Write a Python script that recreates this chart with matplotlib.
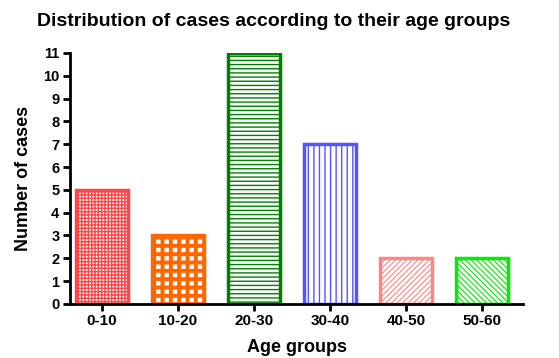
import matplotlib
matplotlib.use("Agg")
import matplotlib.pyplot as plt

categories = ["0-10", "10-20", "20-30", "30-40", "40-50", "50-60"]
cases = [5, 3, 11, 7, 2, 2]
colors = ["#FF4545", "#FF6600", "#008000", "#5555FF", "#FF8585", "#00EE00"]
hatches = ["+++++", "++", "----", "|||", "//////", "\\\\\\\\\\\\"]
hatch_lw = [1.0, 2.8, 1.0, 1.0, 0.8, 0.8]

plt.rcParams['font.family'] = ['Liberation Sans', 'DejaVu Sans']

fig = plt.figure(figsize=(5.59, 3.58), dpi=100)
ax = fig.add_axes([0.125, 0.151, 0.811, 0.701])

x = list(range(len(categories)))
for i in x:
    plt.rcParams['hatch.linewidth'] = hatch_lw[i]
    b = ax.bar(i, cases[i], width=0.68, facecolor="white", edgecolor=colors[i],
               hatch=hatches[i], linewidth=2.5, zorder=2)
    for p in b:
        if hasattr(p, "set_hatch_linewidth"):
            p.set_hatch_linewidth(hatch_lw[i])

ax.set_xlim(-0.42, 5.54)
ax.set_ylim(0, 11)
ax.set_yticks(range(0, 12))
ax.set_xticks(x)
ax.set_xticklabels(categories)
for lab in ax.get_xticklabels():
    lab.set_fontweight("bold")
    lab.set_fontsize(11)
for lab in ax.get_yticklabels():
    lab.set_fontweight("bold")
    lab.set_fontsize(10.5)
ax.spines['top'].set_visible(False)
ax.spines['right'].set_visible(False)
ax.spines['left'].set_linewidth(2)
ax.spines['bottom'].set_linewidth(2)
ax.tick_params(axis='both', width=2, length=5, direction='out', pad=2.5)
ax.set_xlabel("Age groups", fontsize=13, fontweight="bold", labelpad=8)
ax.set_ylabel("Number of cases", fontsize=13, fontweight="bold", labelpad=8)
fig.text(0.49, 0.94, "Distribution of cases according to their age groups",
         ha="center", va="center", fontsize=14, fontweight="bold")

fig.savefig("out.png", dpi=100)
